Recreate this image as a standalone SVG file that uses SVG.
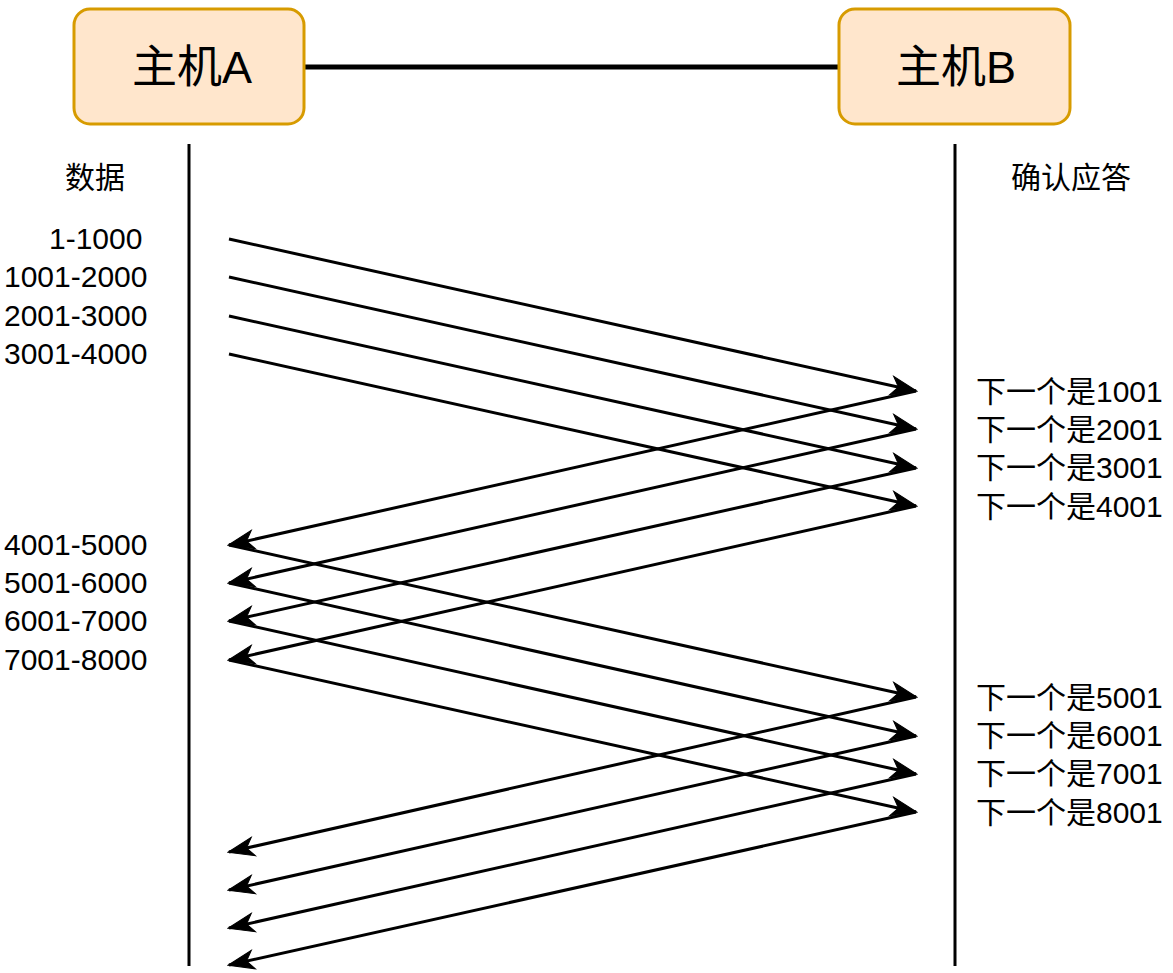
<svg xmlns="http://www.w3.org/2000/svg" width="1173" height="973" viewBox="0 0 1173 973">
<style>
.host{fill:#ffe6cc;stroke:#d79b00;stroke-width:3}
.t{font-family:"Liberation Sans","Noto Sans CJK SC",sans-serif;fill:#000}
.big{font-size:45px;text-anchor:middle}
.lbl{font-size:30px}
.msg{fill:none;stroke:#000;stroke-width:3;marker-end:url(#arr)}
.life{stroke:#000;stroke-width:3}
</style>
<defs>
<marker id="arr" markerUnits="userSpaceOnUse" viewBox="-27 -11 29 22" refX="0" refY="0" markerWidth="29" markerHeight="22" orient="auto">
<path d="M1,0 L-25,-9.5 L-18,0 L-25,9.5 Z" fill="#000" stroke="#000" stroke-width="1" stroke-linejoin="miter"/>
</marker>
</defs>
<rect width="1173" height="973" fill="#fff"/>
<g id="lifelines">
<line class="life" x1="189" y1="144" x2="189" y2="966"/>
<line class="life" x1="955" y1="144" x2="955" y2="966"/>
</g>
<g id="link">
<line x1="305" y1="67" x2="838" y2="67" stroke="#000" stroke-width="5"/>
</g>
<g id="hostA">
<rect class="host" x="74" y="9" width="230" height="115" rx="16"/>
<text class="t big" x="192" y="83">主机A</text>
</g>
<g id="hostB">
<rect class="host" x="839" y="9" width="231" height="115" rx="16"/>
<text class="t big" x="956" y="83">主机B</text>
</g>
<g id="labels">
<text class="t lbl" x="95" y="188" text-anchor="middle">数据</text>
<text class="t lbl" x="1071" y="188" text-anchor="middle">确认应答</text>
<text class="t lbl" x="49" y="249">1-1000</text>
<text class="t lbl" x="4" y="287">1001-2000</text>
<text class="t lbl" x="4" y="326">2001-3000</text>
<text class="t lbl" x="4" y="364">3001-4000</text>
<text class="t lbl" x="4" y="555">4001-5000</text>
<text class="t lbl" x="4" y="593">5001-6000</text>
<text class="t lbl" x="4" y="631">6001-7000</text>
<text class="t lbl" x="4" y="670">7001-8000</text>
<text class="t lbl" x="976" y="402">下一个是1001</text>
<text class="t lbl" x="976" y="440">下一个是2001</text>
<text class="t lbl" x="976" y="478">下一个是3001</text>
<text class="t lbl" x="976" y="517">下一个是4001</text>
<text class="t lbl" x="976" y="708">下一个是5001</text>
<text class="t lbl" x="976" y="746">下一个是6001</text>
<text class="t lbl" x="976" y="784">下一个是7001</text>
<text class="t lbl" x="976" y="823">下一个是8001</text>
</g>
<g id="connectors">
<path class="msg" d="M229,239 L916,391"/>
<path class="msg" d="M229,277 L916,429"/>
<path class="msg" d="M229,316 L916,468"/>
<path class="msg" d="M229,354 L916,506"/>
<path class="msg" d="M916,391 L229,545"/>
<path class="msg" d="M916,429 L229,583"/>
<path class="msg" d="M916,468 L229,621"/>
<path class="msg" d="M916,506 L229,660"/>
<path class="msg" d="M229,545 L916,697"/>
<path class="msg" d="M229,583 L916,736"/>
<path class="msg" d="M229,621 L916,774"/>
<path class="msg" d="M229,660 L916,812"/>
<path class="msg" d="M916,697 L229,852"/>
<path class="msg" d="M916,736 L229,890"/>
<path class="msg" d="M916,774 L229,928"/>
<path class="msg" d="M916,812 L229,965"/>
</g>
</svg>
